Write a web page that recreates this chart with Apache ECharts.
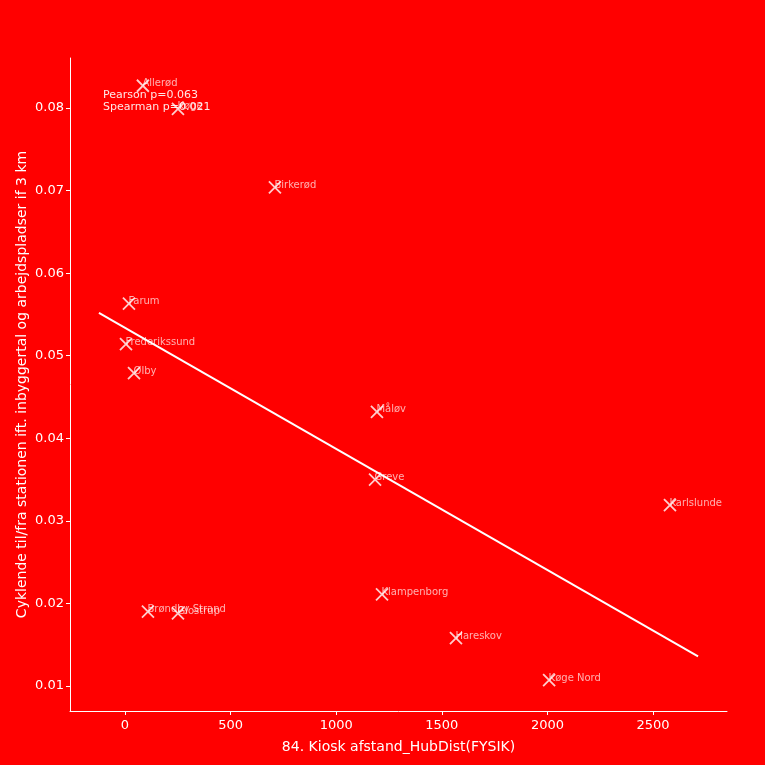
<!DOCTYPE html>
<html><head><meta charset="utf-8">
<script src="https://cdn.jsdelivr.net/npm/echarts@6/dist/echarts.min.js"></script>
<style>html,body{margin:0;padding:0;background:#ff0000}#c{width:765px;height:765px}</style>
</head><body><div id="c"></div>
<script>
const stations = ["Allerød","Køge","Birkerød","Farum","Frederikssund","Ølby","Måløv","Greve","Karlslunde","Klampenborg","Hareskov","Køge Nord","Brøndby Strand","Glostrup"];
const hubDist = [85, 251, 710, 19, 5, 43, 1193, 1184, 2580, 1217, 1567, 2008, 109, 251];
const cyclists = [0.0827, 0.0799, 0.0704, 0.0563, 0.0514, 0.0479, 0.0432, 0.0350, 0.0319, 0.0211, 0.0158, 0.0107, 0.0190, 0.0188];
const fitX = [-123, 2713];
const fitY = [0.0552, 0.0136];
const statsText = ["Pearson p=0.063", "Spearman p=0.021"];
const xTicks = [0, 500, 1000, 1500, 2000, 2500];
const yTicks = [0.01, 0.02, 0.03, 0.04, 0.05, 0.06, 0.07, 0.08];

const chart = echarts.init(document.getElementById('c'));
const font = 'DejaVu Sans';
const white = '#ffffff';
chart.setOption({
  backgroundColor: '#ff0000',
  animation: false,
  textStyle: {fontFamily: font},
  title: {
    text: statsText.join('\n'),
    left: 103, top: 89, padding: 0,
    textStyle: {color: 'rgba(255,255,255,0.9)', fontSize: 11, fontWeight: 'normal', fontFamily: font, lineHeight: 12}
  },
  grid: {left: 70, right: 38, top: 58, bottom: 54},
  xAxis: {
    type: 'value', min: -260, max: 2850,
    name: '84. Kiosk afstand_HubDist(FYSIK)', nameLocation: 'middle', nameGap: 29,
    nameTextStyle: {color: white, fontSize: 14, fontFamily: font},
    splitLine: {show: false},
    axisLine: {show: true, onZero: false, lineStyle: {color: white, width: 1}},
    axisTick: {show: true, customValues: xTicks, length: 4, lineStyle: {color: white}},
    axisLabel: {customValues: xTicks, color: white, fontSize: 13, margin: 8, fontFamily: font,
      formatter: v => String(v)}
  },
  yAxis: {
    type: 'value', min: 0.00697, max: 0.08606,
    name: 'Cyklende til/fra stationen ift. inbyggertal og arbejdspladser if 3 km', nameLocation: 'middle', nameGap: 41,
    nameMoveOverlap: false,
    nameTextStyle: {color: white, fontSize: 14, fontFamily: font},
    splitLine: {show: false},
    axisLine: {show: true, onZero: false, lineStyle: {color: white, width: 1}},
    axisTick: {show: true, customValues: yTicks, length: 4, lineStyle: {color: white}},
    axisLabel: {customValues: yTicks, color: white, fontSize: 13, margin: 6, fontFamily: font,
      formatter: v => v.toFixed(2)}
  },
  series: [
    {
      type: 'line',
      data: fitX.map((x, i) => [x, fitY[i]]),
      symbol: 'none',
      lineStyle: {color: white, width: 2},
      z: 2
    },
    {
      type: 'scatter',
      data: hubDist.map((x, i) => ({value: [x, cyclists[i]], name: stations[i]})),
      symbol: 'path://M0,0L10,10M10,0L0,10',
      symbolSize: 12,
      itemStyle: {color: 'none', borderColor: white, borderWidth: 1.8},
      label: {
        show: true, position: 'right', distance: -9, offset: [0, -2],
        formatter: p => p.name,
        color: 'rgba(255,255,255,0.85)', fontSize: 10, fontFamily: font
      },
      z: 3
    }
  ]
});
</script></body></html>
